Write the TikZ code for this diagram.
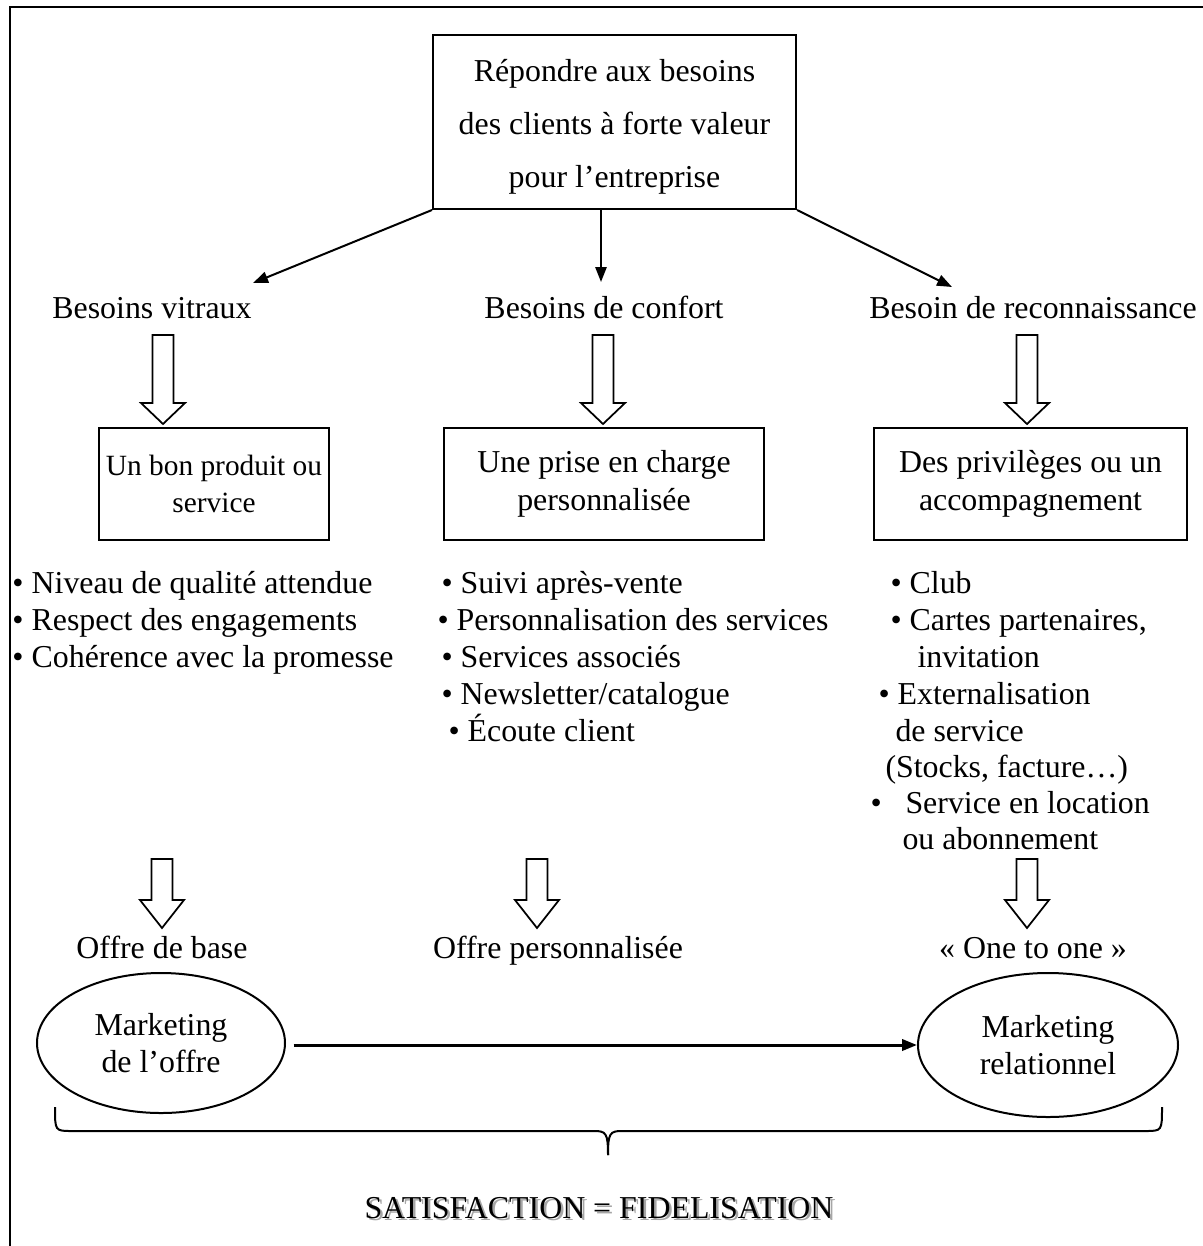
\documentclass[tikz,border=0pt]{standalone}
\usepackage{fontspec}
\setmainfont{Liberation Serif}
\usetikzlibrary{arrows.meta,shapes.geometric}

% hollow block arrow pointing down: centre x, shaft top, head start, tip
\newcommand\hollowarrow[4]{%
  \draw[hollow] (#1-10.5,#2) -- (#1+10.5,#2) -- (#1+10.5,#3) -- (#1+22,#3)
    -- (#1,#4) -- (#1-22,#3) -- (#1-10.5,#3) -- cycle;}

\begin{document}
\begin{tikzpicture}[x=0.4pt,y=-0.4pt,
  every node/.style={font=\fontsize{12.75}{15}\selectfont, inner sep=0pt},
  txt/.style={anchor=base},
  item/.style={anchor=base west},
  framebox/.style={draw, line width=0.8pt, align=center},
  oval/.style={draw, ellipse, line width=0.8pt, align=center},
  thinarrow/.style={-{Triangle[length=6pt,width=4.5pt]}, line width=0.8pt},
  hollow/.style={draw, line width=0.7pt, fill=white, line join=miter},
]
\useasboundingbox (0,0) rectangle (1203,1246);

% page frame (top and left edges)
\draw[line width=1pt] (10,1246) -- (10,7) -- (1203,7);

% goal
\node[framebox, minimum width=145.2pt, minimum height=69.6pt,
      font=\fontsize{12.75}{21.2}\selectfont] (goal) at (614.5,122)
  {\rule{0pt}{12.4pt}Répondre aux besoins\\des clients à forte valeur\\pour l’entreprise};

% needs
\node[txt] (need1) at (152,318) {Besoins vitraux};
\node[txt] (need2) at (604,318) {Besoins de confort};
\node[txt] (need3) at (1033,318) {Besoin de reconnaissance};

\coordinate (t1) at (253,283);
\coordinate (t2) at (601,282);
\coordinate (t3) at (952,287);
\draw[thinarrow] (goal.south west) -- (t1);
\draw[thinarrow] (goal.south -| t2) -- (t2);
\draw[thinarrow] (goal.south east) -- (t3);

% hollow arrows, needs -> answers
\hollowarrow{163}{335}{403}{424}
\hollowarrow{603}{335}{403}{424}
\hollowarrow{1027}{335}{403}{424}

% answers
\node[framebox, minimum width=92pt, minimum height=44.8pt,
      font=\fontsize{11.75}{15}\selectfont] (ans1) at (214,484)
  {Un bon produit ou\\service};
\node[framebox, minimum width=128pt, minimum height=44.8pt] (ans2) at (604,484)
  {Une prise en charge\\personnalisée};
\node[framebox, minimum width=125.2pt, minimum height=44.8pt] (ans3) at (1030.5,484)
  {Des privilèges ou un\\accompagnement};

% left list
\node[item] (l1) at (12,593) {• Niveau de qualité attendue};
\node[item] (l2) at (12,630) {• Respect des engagements};
\node[item] (l3) at (12,667) {• Cohérence avec la promesse};

% middle list
\node[item] (m1) at (441,593) {• Suivi après-vente};
\node[item] (m2) at (437,630) {• Personnalisation des services};
\node[item] (m3) at (441,667) {• Services associés};
\node[item] (m4) at (441,704) {• Newsletter/catalogue};
\node[item] (m5) at (448,741) {• Écoute client};

% right list
\node[item] (r1) at (890,593) {• Club};
\node[item] (r2) at (890,630) {• Cartes partenaires,};
\node[item] (r3) at (917,667) {invitation};
\node[item] (r4) at (878,704) {• Externalisation};
\node[item] (r5) at (895,741) {de service};
\node[item] (r6) at (885,777) {(Stocks, facture…)};
\node[item] (r7) at (870,813) {•};
\node[item] (r7t) at (905,813) {Service en location};
\node[item] (r8) at (902,849) {ou abonnement};

% hollow arrows, answers -> offers
\hollowarrow{162}{859}{900}{928}
\hollowarrow{537}{859}{900}{928}
\hollowarrow{1027}{859}{900}{928}

% offers
\node[txt] (o1) at (162,958) {Offre de base};
\node[txt] (o2) at (558,958) {Offre personnalisée};
\node[txt] (o3) at (1033,958) {« One to one »};

% marketing ellipses
\node[oval, minimum width=99.2pt, minimum height=56pt] (mk1) at (161,1043)
  {Marketing\\de l’offre};
\node[oval, minimum width=104pt, minimum height=57.6pt] (mk2) at (1048,1045)
  {Marketing\\relationnel};
\draw[-{Triangle[length=6pt,width=4.5pt]}, line width=1.2pt, shorten <=3pt]
  (mk1.east |- mk2.west) -- (mk2.west);

% brace
\coordinate (bl) at (55,1107);
\coordinate (br) at (1162,1107);
\coordinate (bt) at (608,1155);
\draw[line width=0.8pt]
  (bl) .. controls (55,1131) .. (72,1131) -- (594,1131)
  .. controls (606,1131) and (608,1133) .. (bt);
\draw[line width=0.8pt]
  (br) .. controls (1162,1131) .. (1145,1131) -- (622,1131)
  .. controls (610,1131) and (608,1133) .. (bt);

% conclusion with soft shadow
\node[txt, text=black!35] (satsh) at (601.5,1220.5) {SATISFACTION = FIDELISATION};
\node[txt] (sat) at (599,1218) {SATISFACTION = FIDELISATION};
\end{tikzpicture}
\end{document}
